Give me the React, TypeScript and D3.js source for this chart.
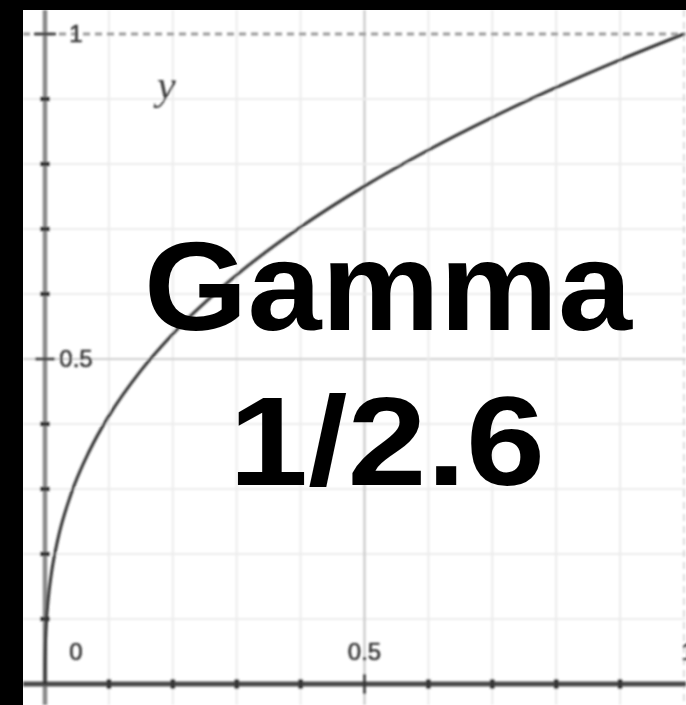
import React from "react";
import * as d3 from "d3";

// Sampled points of the transfer curve (input level -> output level)
const curveX = [0, 0.0001, 0.0005, 0.002, 0.005, 0.01, 0.02, 0.04, 0.07, 0.1, 0.15, 0.2, 0.3, 0.4, 0.5, 0.6, 0.7, 0.8, 0.9, 1.0];
const curveY = [0, 0.0289, 0.0537, 0.0916, 0.1303, 0.1701, 0.2221, 0.29, 0.3596, 0.4125, 0.4821, 0.5385, 0.6293, 0.703, 0.766, 0.8216, 0.8718, 0.9178, 0.9603, 1.0];

// Grid / tick positions
const gridSteps = [0.1, 0.2, 0.3, 0.4, 0.5, 0.6, 0.7, 0.8, 0.9];
const majorSteps = [0.5, 1];
const xTickLabels = [
  { v: 0, t: "0" },
  { v: 0.5, t: "0.5" },
  { v: 1, t: "1" },
];
const yTickLabels = [
  { v: 0.5, t: "0.5" },
  { v: 1, t: "1" },
];
const titleLines = ["Gamma", "1/2.6"];

const W = 686;
const H = 705;

export default function App() {
  const x = d3.scaleLinear().domain([0, 1]).range([45, 684]);
  const y = d3.scaleLinear().domain([0, 1]).range([684, 34]);

  const pts: [number, number][] = curveX.map((v, i) => [v, curveY[i]]);
  const line = d3
    .line<[number, number]>()
    .x((d) => x(d[0]))
    .y((d) => y(d[1]))
    .curve(d3.curveMonotoneX);

  const plotLeft = 23;
  const plotTop = 10;
  const labelFont = "'Liberation Sans', Arial, sans-serif";

  return (
    <svg
      width={W}
      height={H}
      style={{ position: "absolute", left: 0, top: 0, display: "block" }}
    >
      <defs>
        <filter id="soft" x="-5%" y="-5%" width="110%" height="110%">
          <feGaussianBlur stdDeviation="0.9" />
        </filter>
        <clipPath id="plotClip">
          <rect x={plotLeft} y={plotTop} width={W - plotLeft} height={H - plotTop} />
        </clipPath>
      </defs>
      <rect x={0} y={0} width={W} height={H} fill="#000" />
      <rect x={plotLeft} y={plotTop} width={W - plotLeft} height={H - plotTop} fill="#fff" />

      <g clipPath="url(#plotClip)">
        <g filter="url(#soft)">
          {/* minor grid */}
          {gridSteps.map((g) => (
            <g key={"g" + g}>
              <line
                x1={x(g)}
                x2={x(g)}
                y1={plotTop}
                y2={H}
                stroke={g === 0.5 ? "#c4c4c4" : "#ececec"}
                strokeWidth={2}
              />
              <line
                x1={plotLeft}
                x2={W}
                y1={y(g)}
                y2={y(g)}
                stroke={g === 0.5 ? "#cfcfcf" : "#ececec"}
                strokeWidth={2}
              />
            </g>
          ))}

          {/* dashed limit lines at 1 */}
          <line
            x1={plotLeft}
            x2={W}
            y1={y(1)}
            y2={y(1)}
            stroke="#9a9a9a"
            strokeWidth={3}
            strokeDasharray="7 5"
          />
          <line
            x1={x(1)}
            x2={x(1)}
            y1={plotTop}
            y2={H}
            stroke="#d0d0d0"
            strokeWidth={1.5}
            strokeDasharray="7 5"
          />

          {/* y axis */}
          <line x1={x(0)} x2={x(0)} y1={plotTop} y2={H} stroke="#888" strokeWidth={4.5} />
          {/* x axis */}
          <line x1={plotLeft} x2={W} y1={y(0)} y2={y(0)} stroke="#4a4a4a" strokeWidth={5} />

          {/* ticks */}
          {gridSteps.map((g) => {
            const major = majorSteps.includes(g);
            const len = major ? 10 : 5;
            return (
              <g key={"t" + g}>
                <line x1={x(0) - len} x2={x(0) + len} y1={y(g)} y2={y(g)} stroke="#333" strokeWidth={major ? 2.5 : 4} />
                <line x1={x(g)} x2={x(g)} y1={y(0) - len} y2={y(0) + len} stroke="#333" strokeWidth={major ? 2.5 : 4} />
              </g>
            );
          })}
          <line x1={x(0) - 11} x2={x(0) + 11} y1={y(1)} y2={y(1)} stroke="#333" strokeWidth={2.5} />

          {/* curve */}
          <path d={line(pts) ?? ""} fill="none" stroke="#303030" strokeWidth={3} />

          {/* tick labels */}
          {xTickLabels.map((d) => (
            <text
              key={"xl" + d.t}
              x={d.v === 0 ? x(0) + 31 : d.v === 1 ? x(1) + 4 : x(d.v)}
              y={y(0) - 24}
              textAnchor="middle"
              fontFamily={labelFont}
              fontSize={24}
              fill="#333"
              stroke="#333"
              strokeWidth={0.6}
            >
              {d.t}
            </text>
          ))}
          {yTickLabels.map((d) => (
            <text
              key={"yl" + d.t}
              x={x(0) + 31}
              y={y(d.v) + 8}
              textAnchor="middle"
              fontFamily={labelFont}
              fontSize={24}
              fill="#333"
              stroke="#333"
              strokeWidth={0.6}
            >
              {d.t}
            </text>
          ))}

          {/* axis name */}
          <text
            x={157}
            y={99}
            fontFamily="'Liberation Serif', 'Times New Roman', serif"
            fontStyle="italic"
            fontSize={42}
            fill="#3a3a3a"
          >
            y
          </text>
        </g>
      </g>

      {/* title overlay */}
      <text
        x={144}
        y={330}
        fontFamily={labelFont}
        fontWeight="bold"
        fontSize={126}
        textLength={488}
        lengthAdjust="spacingAndGlyphs"
        fill="#000"
      >
        {titleLines[0]}
      </text>
      <text
        x={229}
        y={485}
        fontFamily={labelFont}
        fontWeight="bold"
        fontSize={126}
        textLength={316}
        lengthAdjust="spacingAndGlyphs"
        fill="#000"
      >
        {titleLines[1]}
      </text>
    </svg>
  );
}
